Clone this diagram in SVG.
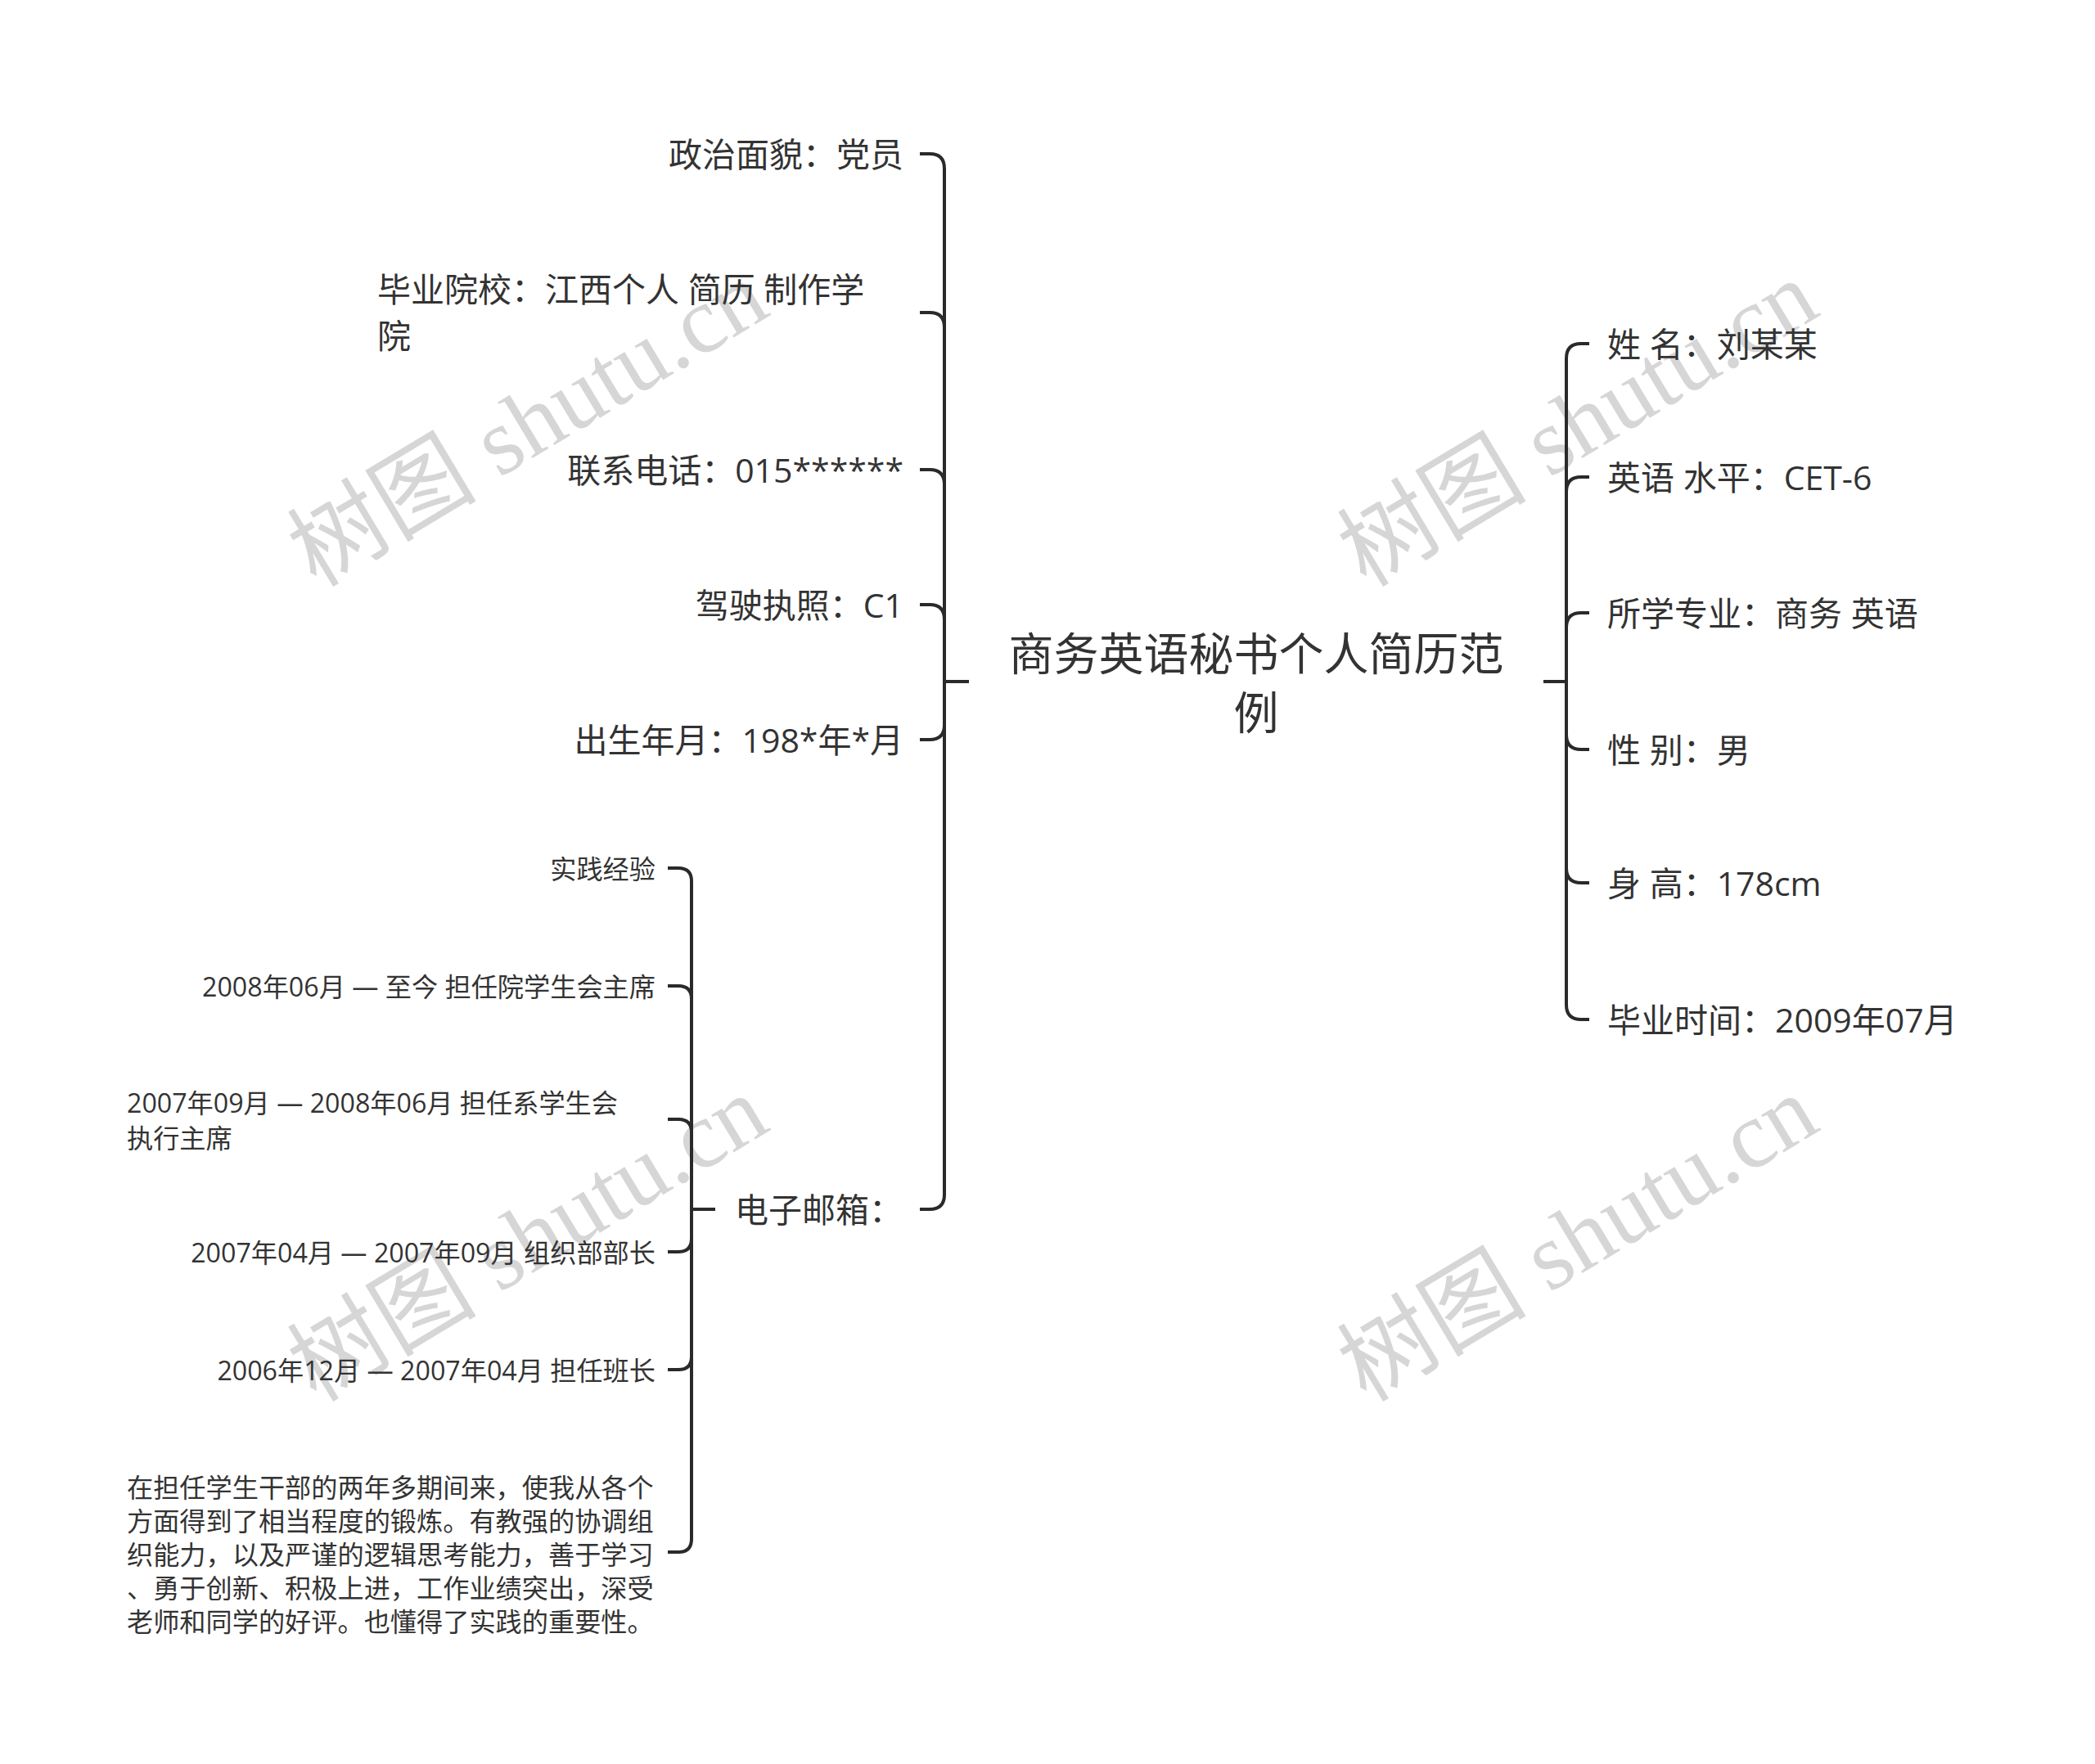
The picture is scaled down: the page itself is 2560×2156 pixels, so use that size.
<svg xmlns="http://www.w3.org/2000/svg" width="2560" height="2156" viewBox="0 0 2560 2156">
<style>
.bg{fill:#ffffff}
.t{font-family:"Open Sans","Noto Sans CJK SC",sans-serif;fill:#333333;dominant-baseline:central}
.root{font-size:55px;text-anchor:middle}
.l1{font-size:41px}
.l2{font-size:32.2px}
.end{text-anchor:end}
.ln{fill:none;stroke:#2a2a2a;stroke-width:4;stroke-linecap:butt;stroke-linejoin:round}
.wm{font-family:"Liberation Serif","Noto Sans CJK SC",serif;font-size:116px;fill:#d6d6d6;text-anchor:middle;dominant-baseline:central}
</style>
<rect class="bg" x="0" y="0" width="2560" height="2156"/>
<g id="watermarks">
<text class="wm" transform="translate(645,518) rotate(-31)">树图 shutu.cn</text>
<text class="wm" transform="translate(1928,518) rotate(-31)">树图 shutu.cn</text>
<text class="wm" transform="translate(645,1514) rotate(-31)">树图 shutu.cn</text>
<text class="wm" transform="translate(1928,1514) rotate(-31)">树图 shutu.cn</text>
</g>
<g id="connectors">
<path class="ln" d="M1184 833 H1154 V206 Q1154 188 1136 188 H1124"/>
<path class="ln" d="M1184 833 H1154 V400 Q1154 382 1136 382 H1124"/>
<path class="ln" d="M1184 833 H1154 V592 Q1154 574 1136 574 H1124"/>
<path class="ln" d="M1184 833 H1154 V757 Q1154 739 1136 739 H1124"/>
<path class="ln" d="M1184 833 H1154 V886 Q1154 904 1136 904 H1124"/>
<path class="ln" d="M1184 833 H1154 V1460 Q1154 1478 1136 1478 H1124"/>
<path class="ln" d="M874 1478 H845 V1077 Q845 1061 829 1061 H816"/>
<path class="ln" d="M874 1478 H845 V1221 Q845 1205 829 1205 H816"/>
<path class="ln" d="M874 1478 H845 V1384 Q845 1368 829 1368 H816"/>
<path class="ln" d="M874 1478 H845 V1514 Q845 1530 829 1530 H816"/>
<path class="ln" d="M874 1478 H845 V1658 Q845 1674 829 1674 H816"/>
<path class="ln" d="M874 1478 H845 V1881 Q845 1897 829 1897 H816"/>
<path class="ln" d="M1886 833 H1914 V438 Q1914 420 1932 420 H1942"/>
<path class="ln" d="M1886 833 H1914 V601 Q1914 583 1932 583 H1942"/>
<path class="ln" d="M1886 833 H1914 V767 Q1914 749 1932 749 H1942"/>
<path class="ln" d="M1886 833 H1914 V898 Q1914 916 1932 916 H1942"/>
<path class="ln" d="M1886 833 H1914 V1061 Q1914 1079 1932 1079 H1942"/>
<path class="ln" d="M1886 833 H1914 V1228 Q1914 1246 1932 1246 H1942"/>
</g>
<g id="root"><text class="t root"><tspan x="1535" y="797">商务英语秘书个人简历范</tspan><tspan x="1535" y="869">例</tspan></text></g>
<g id="n-zzmm"><text class="t l1 end" x="1104" y="188">政治面貌：党员</text></g>
<g id="n-byyx"><text class="t l1"><tspan x="461" y="353">毕业院校：江西个人 简历 制作学</tspan><tspan x="461" y="410">院</tspan></text></g>
<g id="n-lxdh"><text class="t l1 end" x="1104" y="574">联系电话：015******</text></g>
<g id="n-jszz"><text class="t l1 end" x="1104" y="739">驾驶执照：C1</text></g>
<g id="n-csny"><text class="t l1 end" x="1104" y="904">出生年月：198*年*月</text></g>
<g id="n-dzyx"><text class="t l1" x="898" y="1478">电子邮箱：</text></g>
<g id="n-sjjy"><text class="t l2 end" x="801" y="1061">实践经验</text></g>
<g id="n-2008"><text class="t l2 end" x="801" y="1205">2008年06月 — 至今 担任院学生会主席</text></g>
<g id="n-2007a"><text class="t l2"><tspan x="155" y="1347">2007年09月 — 2008年06月 担任系学生会</tspan><tspan x="155" y="1390">执行主席</tspan></text></g>
<g id="n-2007b"><text class="t l2 end" x="801" y="1530">2007年04月 — 2007年09月 组织部部长</text></g>
<g id="n-2006"><text class="t l2 end" x="801" y="1674">2006年12月 — 2007年04月 担任班长</text></g>
<g id="n-para"><text class="t l2"><tspan x="155" y="1817">在担任学生干部的两年多期间来，使我从各个</tspan><tspan x="155" y="1858">方面得到了相当程度的锻炼。有教强的协调组</tspan><tspan x="155" y="1899">织能力，以及严谨的逻辑思考能力，善于学习</tspan><tspan x="155" y="1940">、勇于创新、积极上进，工作业绩突出，深受</tspan><tspan x="155" y="1981">老师和同学的好评。也懂得了实践的重要性。</tspan></text></g>
<g id="n-xm"><text class="t l1" x="1964" y="420">姓 名：刘某某</text></g>
<g id="n-yysp"><text class="t l1" x="1964" y="583">英语 水平：CET-6</text></g>
<g id="n-sxzy"><text class="t l1" x="1964" y="749">所学专业：商务 英语</text></g>
<g id="n-xb"><text class="t l1" x="1964" y="916">性 别：男</text></g>
<g id="n-sg"><text class="t l1" x="1964" y="1079">身 高：178cm</text></g>
<g id="n-bysj"><text class="t l1" x="1964" y="1246">毕业时间：2009年07月</text></g>
</svg>
